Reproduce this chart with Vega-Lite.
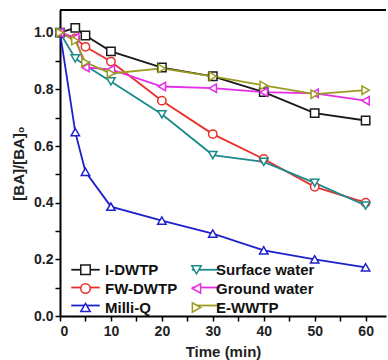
{
  "$schema": "https://vega.github.io/schema/vega-lite/v6.json",
  "width": 326,
  "height": 306,
  "autosize": {"type": "none"},
  "padding": {"left": 60, "top": 10, "right": 2, "bottom": 44},
  "config": {
    "font": "Liberation Sans",
    "view": {"stroke": null},
    "axis": {
      "domainColor": "black", "domainWidth": 2, "tickColor": "black", "tickWidth": 1.5,
      "labelFont": "Liberation Sans", "labelFontWeight": "bold", "labelFontSize": 14, "labelColor": "#222",
      "titleFont": "Liberation Sans", "titleFontWeight": "bold", "titleFontSize": 15, "titleColor": "#222",
      "grid": false
    },
    "legend": {"labelFont": "Liberation Sans", "labelFontWeight": "bold", "labelFontSize": 15, "labelColor": "#111", "padding": 0}
  },
  "data": {"values": [
    {"s": "I-DWTP", "t": 0, "v": 1.0}, {"s": "I-DWTP", "t": 3, "v": 1.017}, {"s": "I-DWTP", "t": 5, "v": 0.99}, {"s": "I-DWTP", "t": 10, "v": 0.934}, {"s": "I-DWTP", "t": 20, "v": 0.877}, {"s": "I-DWTP", "t": 30, "v": 0.846}, {"s": "I-DWTP", "t": 40, "v": 0.79}, {"s": "I-DWTP", "t": 50, "v": 0.716}, {"s": "I-DWTP", "t": 60, "v": 0.69},
    {"s": "FW-DWTP", "t": 0, "v": 1.0}, {"s": "FW-DWTP", "t": 3, "v": 0.98}, {"s": "FW-DWTP", "t": 5, "v": 0.95}, {"s": "FW-DWTP", "t": 10, "v": 0.898}, {"s": "FW-DWTP", "t": 20, "v": 0.76}, {"s": "FW-DWTP", "t": 30, "v": 0.642}, {"s": "FW-DWTP", "t": 40, "v": 0.554}, {"s": "FW-DWTP", "t": 50, "v": 0.456}, {"s": "FW-DWTP", "t": 60, "v": 0.40},
    {"s": "Milli-Q", "t": 0, "v": 1.0}, {"s": "Milli-Q", "t": 3, "v": 0.649}, {"s": "Milli-Q", "t": 5, "v": 0.509}, {"s": "Milli-Q", "t": 10, "v": 0.386}, {"s": "Milli-Q", "t": 20, "v": 0.337}, {"s": "Milli-Q", "t": 30, "v": 0.291}, {"s": "Milli-Q", "t": 40, "v": 0.232}, {"s": "Milli-Q", "t": 50, "v": 0.2}, {"s": "Milli-Q", "t": 60, "v": 0.172},
    {"s": "Surface water", "t": 0, "v": 1.0}, {"s": "Surface water", "t": 3, "v": 0.909}, {"s": "Surface water", "t": 5, "v": 0.884}, {"s": "Surface water", "t": 10, "v": 0.828}, {"s": "Surface water", "t": 20, "v": 0.712}, {"s": "Surface water", "t": 30, "v": 0.568}, {"s": "Surface water", "t": 40, "v": 0.544}, {"s": "Surface water", "t": 50, "v": 0.47}, {"s": "Surface water", "t": 60, "v": 0.39},
    {"s": "Ground water", "t": 0, "v": 1.0}, {"s": "Ground water", "t": 3, "v": 0.982}, {"s": "Ground water", "t": 5, "v": 0.877}, {"s": "Ground water", "t": 10, "v": 0.87}, {"s": "Ground water", "t": 20, "v": 0.81}, {"s": "Ground water", "t": 30, "v": 0.804}, {"s": "Ground water", "t": 40, "v": 0.79}, {"s": "Ground water", "t": 50, "v": 0.786}, {"s": "Ground water", "t": 60, "v": 0.76},
    {"s": "E-WWTP", "t": 0, "v": 1.0}, {"s": "E-WWTP", "t": 3, "v": 0.972}, {"s": "E-WWTP", "t": 5, "v": 0.895}, {"s": "E-WWTP", "t": 10, "v": 0.856}, {"s": "E-WWTP", "t": 20, "v": 0.874}, {"s": "E-WWTP", "t": 30, "v": 0.846}, {"s": "E-WWTP", "t": 40, "v": 0.814}, {"s": "E-WWTP", "t": 50, "v": 0.783}, {"s": "E-WWTP", "t": 60, "v": 0.797}
  ]},
  "encoding": {
    "x": {"field": "t", "type": "quantitative", "scale": {"domain": [0, 64], "nice": false},
      "axis": {"title": "Time (min)", "values": [0,5,10,15,20,25,30,35,40,45,50,55,60], "labelExpr": "datum.value % 10 === 0 ? datum.label : ''", "tickSize": 5, "labelPadding": 3, "titlePadding": 6}},
    "y": {"field": "v", "type": "quantitative", "scale": {"domain": [0, 1.08], "nice": false, "zero": false},
      "axis": {"title": "[BA]/[BA]₀", "values": [0,0.1,0.2,0.3,0.4,0.5,0.6,0.7,0.8,0.9,1.0], "format": ".1f", "labelExpr": "round(datum.value*10) % 2 === 0 ? datum.label : ''", "tickSize": 5, "titlePadding": 7}}
  },
  "layer": [
    {"mark": {"type": "rule", "color": "black", "strokeWidth": 2}, "data": {"values": [{"a": 0, "b": 64, "top": 1.08}]},
     "encoding": {"x": {"field": "a", "type": "quantitative"}, "x2": {"field": "b"}, "y": {"field": "top", "type": "quantitative"}}},
    {"mark": {"type": "line", "strokeWidth": 1.8},
     "encoding": {"stroke": {"field": "s", "type": "nominal", "title": null,
       "sort": ["I-DWTP","FW-DWTP","Milli-Q","Surface water","Ground water","E-WWTP"],
       "scale": {"range": ["#1a1a1a","#e8302a","#1f1fcc","#1a8a8a","#e62ee6","#9b9b1f"]},
       "legend": {"orient": "none", "legendX": 18, "legendY": 252, "columns": 2, "columnPadding": 82.5, "rowPadding": 2, "symbolSize": 90, "symbolType": "M-3.0,0H3.0", "symbolStrokeWidth": 1.8, "labelOffset": 12, "labelExpr": "''"}}}},
    {"mark": {"type": "point", "filled": false, "fill": "white", "fillOpacity": 1, "strokeWidth": 1.5, "size": 70, "opacity": 1},
     "encoding": {
       "color": {"field": "s", "type": "nominal", "title": null,
         "scale": {"domain": ["I-DWTP","FW-DWTP","Milli-Q","Surface water","Ground water","E-WWTP"], "range": ["#1a1a1a","#e8302a","#1f1fcc","#1a8a8a","#e62ee6","#9b9b1f"]},
         "legend": {"orient": "none", "legendX": 18, "legendY": 252, "columns": 2, "columnPadding": 10, "rowPadding": 2, "symbolSize": 90, "symbolStrokeWidth": 1.5, "symbolFillColor": "white", "labelOffset": 12}},
       "shape": {"field": "s", "type": "nominal", "title": null,
         "scale": {"domain": ["I-DWTP","FW-DWTP","Milli-Q","Surface water","Ground water","E-WWTP"], "range": ["square","circle","triangle-up","triangle-down","triangle-left","triangle-right"]}}
     }}
  ]
}
